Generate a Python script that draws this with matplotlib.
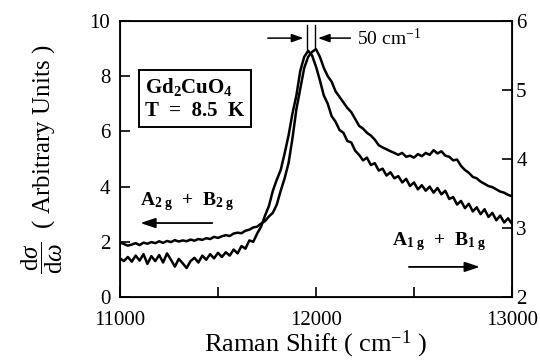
import numpy as np
import matplotlib
matplotlib.use('Agg')
import matplotlib.pyplot as plt

plt.rcParams['font.family'] = ['Liberation Serif', 'DejaVu Serif']
plt.rcParams['mathtext.fontset'] = 'custom'
plt.rcParams['mathtext.rm'] = 'Liberation Serif'
plt.rcParams['mathtext.it'] = 'Liberation Serif:italic'
plt.rcParams['mathtext.bf'] = 'Liberation Serif:bold'

# Raman shift grid (cm-1), 20 cm-1 steps from 11000 to 13000
shift = np.arange(11000, 13001, 20)

# smoother spectrum (upper tail)
spec_upper = [
    1.98, 1.92, 1.86, 1.90, 1.95, 1.88, 1.97, 1.93, 1.99, 1.95,
    2.02, 1.96, 2.03, 1.99, 2.06, 2.01, 2.05, 2.02, 2.08, 2.04,
    2.10, 2.07, 2.13, 2.10, 2.18, 2.14, 2.20, 2.24, 2.21, 2.30,
    2.33, 2.31, 2.40, 2.44, 2.52, 2.55, 2.66, 2.75, 2.92, 3.05,
    3.35, 3.85, 4.30, 4.85, 5.75, 6.80, 7.55, 8.30, 8.70, 8.88,
    8.98, 8.70, 8.30, 8.00, 7.80, 7.45, 7.25, 7.05, 6.85, 6.70,
    6.45, 6.20, 6.10, 5.95, 5.85, 5.70, 5.50, 5.42, 5.35, 5.28,
    5.22, 5.15, 5.22, 5.08, 5.12, 5.05, 5.18, 5.10, 5.22, 5.15,
    5.32, 5.20, 5.28, 5.12, 5.08, 4.95, 4.98, 4.75, 4.60, 4.50,
    4.35, 4.30, 4.18, 4.10, 4.02, 3.98, 3.90, 3.82, 3.78, 3.70,
    3.65,
]

# noisier spectrum (lower tail)
spec_lower = [
    1.40, 1.30, 1.45, 1.28, 1.50, 1.32, 1.55, 1.20, 1.48, 1.30,
    1.52, 1.25, 1.58, 1.35, 1.10, 1.38, 1.22, 1.05, 1.30, 1.42,
    1.25, 1.50, 1.35, 1.55, 1.40, 1.60, 1.45, 1.62, 1.50, 1.72,
    1.58, 1.85, 1.75, 2.05, 2.00, 2.30, 2.55, 2.95, 3.30, 3.85,
    4.25, 4.60, 5.20, 5.85, 6.65, 7.30, 8.20, 8.70, 8.92, 8.75,
    8.35, 7.85, 7.30, 7.00, 6.55, 6.35, 6.05, 5.95, 5.65, 5.60,
    5.30, 5.15, 4.95, 5.05, 4.78, 4.85, 4.58, 4.65, 4.40, 4.52,
    4.30, 4.38, 4.15, 4.28, 4.02, 4.15, 3.90, 4.05, 3.85, 4.00,
    3.78, 3.95, 3.72, 3.85, 3.55, 3.62, 3.35, 3.48, 3.22, 3.38,
    3.10, 3.25, 3.00, 3.18, 2.90, 3.05, 2.78, 2.95, 2.70, 2.85,
    2.65,
]

x_ticks = [11000, 11500, 12000, 12500, 13000]
x_labels = ['11000', '', '12000', '', '13000']
left_ticks = [0, 2, 4, 6, 8, 10]
right_ticks = [2, 3, 4, 5, 6]

fig = plt.figure(figsize=(5.4, 3.6), dpi=100)
ax = fig.add_axes([0.2222, 0.175, 0.7259, 0.7667])

ax.plot(shift, spec_upper, color='black', lw=1.8)
ax.plot(shift, spec_lower, color='black', lw=1.8)

ax.set_xlim(11000, 13000)
ax.set_ylim(0, 10)
ax.set_xticks(x_ticks)
ax.set_xticklabels(x_labels)
ax.set_yticks(left_ticks)
ax.tick_params(axis='x', direction='in', length=7, width=1.2, pad=10, labelsize=15)
ax.tick_params(axis='y', direction='in', length=7, width=1.2, pad=7, labelsize=15)
for s in ax.spines.values():
    s.set_linewidth(1.3)

ax2 = ax.twinx()
ax2.set_ylim(2, 6)
ax2.set_yticks(right_ticks)
ax2.tick_params(axis='y', direction='in', length=7, width=1.2, pad=3, labelsize=15)

ax.set_xlabel('Raman Shift ( cm$^{-1}$ )', fontsize=19, labelpad=-1)
ax.set_ylabel(r'$\dfrac{\mathrm{d}\sigma}{\mathrm{d}\omega}$  ( Arbitrary Units )',
              fontsize=18, labelpad=18)

# sample box
ax.text(11130, 7.2, 'Gd$_\\mathbf{2}$CuO$_\\mathbf{4}$\nT  =  8.5  K',
        fontsize=15, fontweight='bold', va='center', ha='left', linespacing=1.2,
        bbox=dict(boxstyle='square,pad=0.3', fc='white', ec='black', lw=1.4))

# symmetry labels with arrows
ax.text(11100, 3.33, 'A$_{\\mathbf{2\\ g}}$  +  B$_{\\mathbf{2\\ g}}$',
        fontsize=14, fontweight='bold', ha='left', va='baseline')
ax.annotate('', xy=(11090, 2.68), xytext=(11485, 2.68),
            arrowprops=dict(arrowstyle='-|>,head_length=0.9,head_width=0.3',
                            color='black', lw=1.3))
ax.text(12390, 1.88, 'A$_{\\mathbf{1\\ g}}$  +  B$_{\\mathbf{1\\ g}}$',
        fontsize=14, fontweight='bold', ha='left', va='baseline')
ax.annotate('', xy=(12850, 1.09), xytext=(12460, 1.09),
            arrowprops=dict(arrowstyle='-|>,head_length=0.9,head_width=0.3',
                            color='black', lw=1.3))

# 50 cm-1 marker
ax.plot([11952, 11952], [9.0, 9.85], color='black', lw=1.0)
ax.plot([11994, 11994], [9.0, 9.85], color='black', lw=1.0)
ax.annotate('', xy=(11950, 9.38), xytext=(11740, 9.38),
            arrowprops=dict(arrowstyle='-|>,head_length=0.7,head_width=0.25',
                            color='black', lw=1.1))
ax.annotate('', xy=(11996, 9.38), xytext=(12190, 9.38),
            arrowprops=dict(arrowstyle='-|>,head_length=0.7,head_width=0.25',
                            color='black', lw=1.1))
ax.text(12210, 9.38, '50 cm$^{-1}$', fontsize=14, ha='left', va='center')

fig.savefig('out.png', dpi=100)
